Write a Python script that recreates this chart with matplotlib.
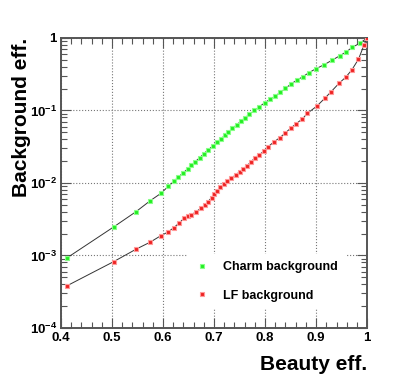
import numpy as np
import matplotlib
matplotlib.use('Agg')
import matplotlib.pyplot as plt
from matplotlib.ticker import FixedLocator, LogLocator, NullFormatter, FuncFormatter

plt.rcParams['font.family'] = ['Liberation Sans', 'DejaVu Sans']
plt.rcParams['font.weight'] = 'bold'
plt.rcParams['mathtext.fontset'] = 'custom'
plt.rcParams['mathtext.rm'] = 'Liberation Sans:bold'
plt.rcParams['mathtext.bf'] = 'Liberation Sans:bold'
plt.rcParams['mathtext.default'] = 'bf'

# beauty efficiency vs background efficiency
charm_eff = [0.412, 0.503, 0.547, 0.575, 0.596, 0.610, 0.621, 0.630, 0.639, 0.648,
             0.655, 0.663, 0.672, 0.680, 0.688, 0.697, 0.705, 0.713, 0.721, 0.728,
             0.736, 0.744, 0.752, 0.760, 0.769, 0.779, 0.789, 0.799, 0.809, 0.820,
             0.830, 0.840, 0.850, 0.862, 0.874, 0.886, 0.900, 0.916, 0.931, 0.946,
             0.959, 0.971, 0.986, 1.0]
charm_bkg = [9.3e-4, 2.47e-3, 4.02e-3, 5.70e-3, 7.21e-3, 8.95e-3, 1.05e-2, 1.21e-2, 1.37e-2, 1.56e-2,
             1.75e-2, 1.97e-2, 2.23e-2, 2.54e-2, 2.85e-2, 3.21e-2, 3.62e-2, 4.04e-2, 4.52e-2, 5.05e-2,
             5.65e-2, 6.31e-2, 7.05e-2, 7.88e-2, 8.81e-2, 0.100, 0.113, 0.127, 0.142, 0.158,
             0.178, 0.201, 0.230, 0.261, 0.292, 0.332, 0.377, 0.428, 0.492, 0.565,
             0.641, 0.744, 0.845, 1.0]

lf_eff = [0.412, 0.503, 0.547, 0.575, 0.596, 0.610, 0.621, 0.631, 0.641, 0.649,
          0.655, 0.665, 0.674, 0.682, 0.688, 0.695, 0.700, 0.706, 0.712, 0.719,
          0.726, 0.734, 0.742, 0.750, 0.757, 0.764, 0.773, 0.780, 0.788, 0.798,
          0.806, 0.818, 0.829, 0.839, 0.850, 0.861, 0.873, 0.883, 0.901, 0.917,
          0.929, 0.945, 0.958, 0.970, 0.983, 0.994, 1.0]
lf_bkg = [3.83e-4, 8.21e-4, 1.22e-3, 1.53e-3, 1.88e-3, 2.11e-3, 2.42e-3, 2.78e-3, 3.26e-3, 3.47e-3,
          3.62e-3, 4.02e-3, 4.48e-3, 4.97e-3, 5.52e-3, 6.27e-3, 7.05e-3, 7.83e-3, 8.73e-3, 9.69e-3,
          1.07e-2, 1.16e-2, 1.29e-2, 1.42e-2, 1.56e-2, 1.72e-2, 1.97e-2, 2.23e-2, 2.43e-2, 2.76e-2,
          3.17e-2, 3.71e-2, 4.22e-2, 4.85e-2, 5.68e-2, 6.58e-2, 7.63e-2, 9.15e-2, 0.114, 0.147,
          0.180, 0.237, 0.287, 0.362, 0.508, 0.80, 1.0]

xticks = [0.4, 0.5, 0.6, 0.7, 0.8, 0.9, 1.0]
xticklabels = ['0.4', '0.5', '0.6', '0.7', '0.8', '0.9', '1']

fig = plt.figure(figsize=(4.07, 3.87), dpi=100)
ax = fig.add_axes([0.150, 0.1525, 0.752, 0.7495])

ax.plot(charm_eff, charm_bkg, '-', color='#333333', lw=0.7, zorder=2)
ax.plot(lf_eff, lf_bkg, '-', color='#333333', lw=0.7, zorder=2)
ax.plot(charm_eff, charm_bkg, 's', ms=3.2, color='#22ee22', mec='#88ff88', mew=0.8,
        label='Charm background', zorder=3)
ax.plot(lf_eff, lf_bkg, 's', ms=3.2, color='#ee2222', mec='#ff9999', mew=0.8,
        label='LF background', zorder=3)

ax.set_yscale('log')
ax.set_xlim(0.4, 1.0)
ax.set_ylim(1e-4, 1)

ax.xaxis.set_major_locator(FixedLocator(xticks))
ax.set_xticklabels(xticklabels)
ax.xaxis.set_minor_locator(FixedLocator(np.arange(0.42, 1.0, 0.02)))
ax.yaxis.set_major_locator(LogLocator(base=10))
ax.yaxis.set_minor_locator(LogLocator(base=10, subs=np.arange(2, 10)))
ax.yaxis.set_minor_formatter(NullFormatter())

def yfmt(v, pos):
    e = int(round(np.log10(v)))
    if e == 0:
        return '1'
    return r'$10^{%d}$' % e
ax.yaxis.set_major_formatter(FuncFormatter(yfmt))

ax.tick_params(which='both', direction='in', top=True, right=True, color='#555555',
               labelsize=9.5, pad=3)
ax.tick_params(which='major', length=7, width=0.8)
ax.tick_params(which='minor', length=4, width=0.8)
for s in ax.spines.values():
    s.set_linewidth(1.4)
    s.set_color('#555555')

ax.grid(True, which='major', linestyle=':', color='#777777', lw=0.8)
ax.set_axisbelow(True)

ax.set_xlabel('Beauty eff.', fontsize=15, fontweight='bold', loc='right')
ax.set_ylabel('Background eff.', fontsize=15, fontweight='bold', loc='top')
ax.xaxis.set_label_coords(1.0, -0.093)
ax.yaxis.set_label_coords(-0.098, 1.0)

leg = ax.legend(loc='lower left', bbox_to_anchor=(0.415, 0.065, 0.52, 0.207),
                mode='expand', frameon=True, fancybox=False, edgecolor='none',
                facecolor='white', framealpha=1, fontsize=9, markerscale=1.0,
                handlelength=1.0, handletextpad=1.2, labelspacing=1.3, borderpad=0.6,
                borderaxespad=0)
for t in leg.get_texts():
    t.set_fontweight('bold')

fig.savefig('out.png', dpi=100)
